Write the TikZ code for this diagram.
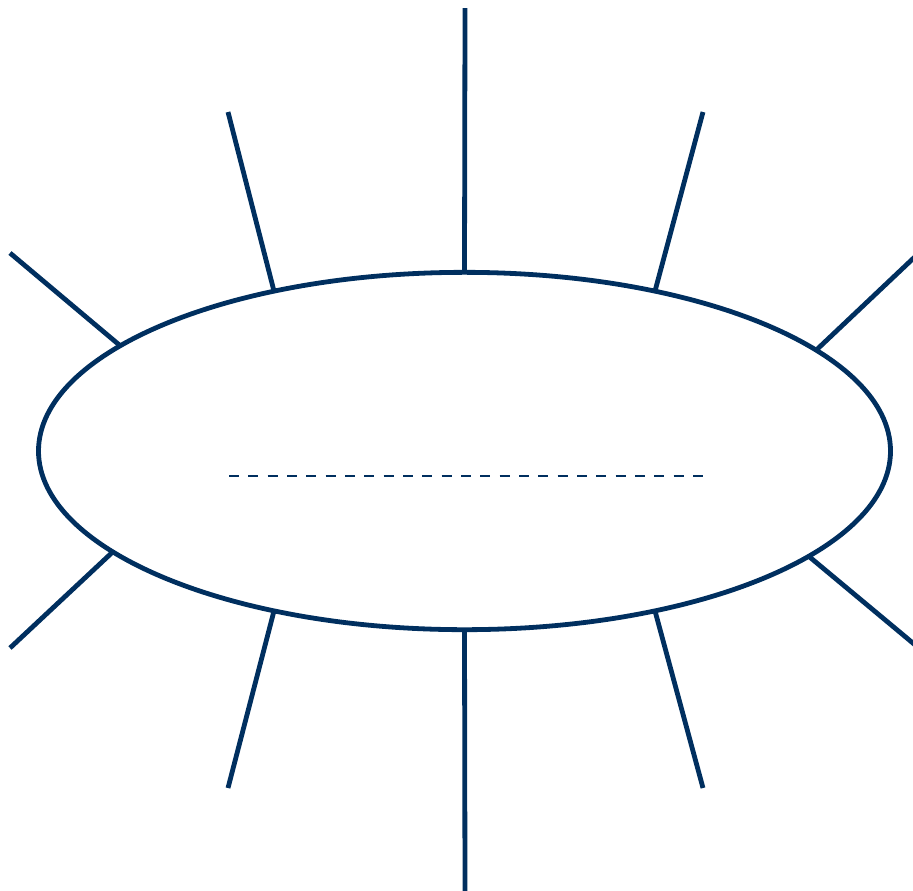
\documentclass[tikz,border=0pt]{standalone}
\usepackage{xcolor}
\usetikzlibrary{shapes.geometric}
\definecolor{navy}{RGB}{0,47,95}
\tikzset{
  bodyNode/.style={ellipse,draw=navy,line width=3.6pt,minimum width=639pt,minimum height=268pt,inner sep=0pt,outer sep=0pt},
  ray/.style={draw=navy,line width=3.6pt},
  axisLine/.style={draw=navy,line width=2pt,dash pattern=on 7.5pt off 7pt}
}
\begin{document}
\begin{tikzpicture}[x=0.75pt,y=-0.75pt]
  \useasboundingbox (0,0) rectangle (913,890);
  \clip (0,0) rectangle (913,890);
  \node[bodyNode] (B) at (464.5,451) {};
  \coordinate (T1) at (465,8);
  \coordinate (T2) at (703,112);
  \coordinate (T3) at (920,252);
  \coordinate (T4) at (920,649);
  \coordinate (T5) at (703,788);
  \coordinate (T6) at (465,895);
  \coordinate (T7) at (228,788);
  \coordinate (T8) at (10,648);
  \coordinate (T9) at (10,253);
  \coordinate (T10) at (228,112);
  \foreach \a/\t in {90/1,40/2,16.5/3,343.5/4,320/5,270/6,220/7,196.5/8,163.5/9,140/10}
      \draw[ray] (B.\a) -- (T\t);
  \coordinate (DL) at (229,476);
  \coordinate (DR) at (703,476);
  \draw[axisLine] (DL) -- (DR);
\end{tikzpicture}
\end{document}
